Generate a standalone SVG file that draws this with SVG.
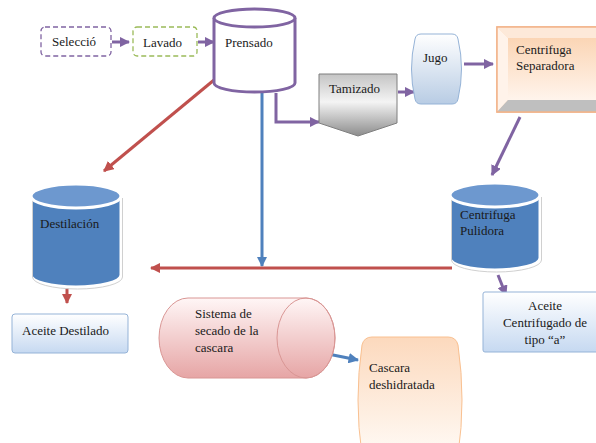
<svg xmlns="http://www.w3.org/2000/svg" width="596" height="443" viewBox="0 0 596 443" font-family="'Liberation Serif', 'Times New Roman', serif">
<style>
text{font-family:"Liberation Serif","Times New Roman",serif;font-size:13px;fill:#1a1a1a}
.p{stroke:#8064a2;stroke-width:3;fill:none}
.r{stroke:#c0504d;stroke-width:3;fill:none}
.b{stroke:#4f81bd;stroke-width:3;fill:none}
</style>
<defs>
<marker id="mp" viewBox="0 0 10 10" refX="9" refY="5" markerWidth="3.5" markerHeight="3.5" orient="auto"><path d="M0,0L10,5L0,10Z" fill="#8064a2"/></marker>
<marker id="mr" viewBox="0 0 10 10" refX="9" refY="5" markerWidth="3.5" markerHeight="3.5" orient="auto"><path d="M0,0L10,5L0,10Z" fill="#c0504d"/></marker>
<marker id="mb" viewBox="0 0 10 10" refX="9" refY="5" markerWidth="3.5" markerHeight="3.5" orient="auto"><path d="M0,0L10,5L0,10Z" fill="#4f81bd"/></marker>
<linearGradient id="gGray" x1="0" y1="0" x2="0" y2="1"><stop offset="0" stop-color="#c4c4c4"/><stop offset="0.45" stop-color="#f4f4f4"/><stop offset="1" stop-color="#8c8c8c"/></linearGradient>
<linearGradient id="gBlue" x1="0" y1="0" x2="0" y2="1"><stop offset="0" stop-color="#ffffff"/><stop offset="1" stop-color="#b8cce4"/></linearGradient>
<linearGradient id="gOr" x1="0" y1="0" x2="0" y2="1"><stop offset="0" stop-color="#fbd5b5"/><stop offset="1" stop-color="#fff4ec"/></linearGradient>
<linearGradient id="gOr2" x1="0" y1="0" x2="0" y2="1"><stop offset="0" stop-color="#fcd9bd"/><stop offset="1" stop-color="#fffaf5"/></linearGradient>
<linearGradient id="gPink" x1="0" y1="0" x2="0" y2="1"><stop offset="0" stop-color="#fff6f6"/><stop offset="1" stop-color="#e6a5a5"/></linearGradient>
<linearGradient id="gBox" x1="0" y1="0" x2="0" y2="1"><stop offset="0" stop-color="#ffffff"/><stop offset="1" stop-color="#c6d9f1"/></linearGradient>
</defs>

<g id="connectors">
<line class="p" x1="112" y1="42" x2="129" y2="42" marker-end="url(#mp)"/>
<line class="p" x1="198" y1="42" x2="214" y2="42" marker-end="url(#mp)"/>
<line class="r" x1="214" y1="80" x2="104" y2="171" marker-end="url(#mr)"/>
<line class="b" x1="262" y1="93" x2="262" y2="266" marker-end="url(#mb)"/>
<polyline class="p" points="276,93 276,122 319,122" marker-end="url(#mp)"/>
<line class="p" x1="398" y1="92" x2="414" y2="92" marker-end="url(#mp)"/>
<line class="p" x1="464" y1="64" x2="493" y2="64" marker-end="url(#mp)"/>
<line class="p" x1="520" y1="117" x2="492" y2="175" marker-end="url(#mp)"/>
<line class="r" x1="452" y1="268" x2="151" y2="268" marker-end="url(#mr)"/>
<line class="r" x1="67" y1="283" x2="67" y2="303" marker-end="url(#mr)"/>
<line class="p" x1="498" y1="275" x2="506" y2="295" marker-end="url(#mp)"/>
<line class="b" x1="328" y1="354" x2="358" y2="360" marker-end="url(#mb)"/>
</g>

<g id="seleccio">
<rect x="41" y="27" width="70" height="29" rx="4" fill="#fff" stroke="#8064a2" stroke-width="1.3" stroke-dasharray="5,3"/>
<text x="52" y="46">Selecció</text>
</g>

<g id="lavado">
<rect x="133" y="27" width="64" height="29" rx="4" fill="#fff" stroke="#9bbb59" stroke-width="1.3" stroke-dasharray="5,3"/>
<text x="143" y="47">Lavado</text>
</g>

<g id="prensado">
<path d="M214,18 L214,83 A40.5,9 0 0 0 295,83 L295,18" fill="#fff" stroke="#8064a2" stroke-width="3"/>
<ellipse cx="254.5" cy="18" rx="40.5" ry="9" fill="#fff" stroke="#8064a2" stroke-width="3"/>
<text x="225" y="47">Prensado</text>
</g>

<g id="tamizado">
<polygon points="319,74 397,74 397,123 358,136 319,123" fill="url(#gGray)" stroke="#7f7f7f" stroke-width="1"/>
<text x="329" y="93">Tamizado</text>
</g>

<g id="jugo">
<path d="M421,34 L452,34 Q457,34 458,39 Q465,69 458,99 Q457,104 452,104 L421,104 Q416,104 415,99 Q408,69 415,39 Q416,34 421,34 Z" fill="url(#gBlue)" stroke="#95b3d7" stroke-width="1"/>
<text x="423" y="62">Jugo</text>
</g>

<g id="centrifuga-separadora">
<rect x="497" y="27" width="102" height="85" fill="#fbd5b5" stroke="#f2b48a" stroke-width="1.5"/>
<polygon points="497,27 599,27 599,38 508,38" fill="#fde9d9"/>
<polygon points="497,27 508,38 508,100 497,112" fill="#fff3ea"/>
<polygon points="497,112 508,100 599,100 599,112" fill="#bfbfbf"/>
<rect x="508" y="38" width="91" height="62" fill="url(#gOr)"/>
<rect x="497" y="27" width="102" height="85" fill="none" stroke="#f2b48a" stroke-width="1.5"/>
<text x="516" y="54">Centrifuga</text>
<text x="516" y="70">Separadora</text>
</g>

<g id="destilacion">
<path d="M31,196 L31,275 A45,12 0 0 0 121,275 L121,196" fill="#4f81bd" stroke="#ffffff" stroke-width="3"/>
<path d="M31,196 L31,275 A45,12 0 0 0 121,275 L121,196" fill="none" stroke="#d0d0d0" stroke-width="1" transform="translate(1.5,2)"/>
<ellipse cx="76" cy="196" rx="45" ry="12" fill="#6d98cf" stroke="#ffffff" stroke-width="3"/>
<text x="40" y="228">Destilación</text>
</g>

<g id="centrifuga-pulidora">
<path d="M450,195 L450,258 A45,12 0 0 0 540,258 L540,195" fill="#4f81bd" stroke="#ffffff" stroke-width="3"/>
<path d="M450,195 L450,258 A45,12 0 0 0 540,258 L540,195" fill="none" stroke="#d0d0d0" stroke-width="1" transform="translate(1.5,2)"/>
<ellipse cx="495" cy="195" rx="45" ry="12" fill="#6d98cf" stroke="#ffffff" stroke-width="3"/>
<text x="460" y="219">Centrifuga</text>
<text x="460" y="235">Pulidora</text>
</g>

<g id="aceite-destilado">
<rect x="12" y="314" width="116" height="39" rx="3" fill="url(#gBox)" stroke="#95b3d7" stroke-width="1"/>
<text x="22" y="335">Aceite Destilado</text>
</g>

<g id="aceite-centrifugado">
<rect x="483" y="292" width="116" height="60" rx="2" fill="url(#gBox)" stroke="#95b3d7" stroke-width="1"/>
<text x="545" y="310" text-anchor="middle">Aceite</text>
<text x="545" y="327" text-anchor="middle">Centrifugado de</text>
<text x="545" y="344" text-anchor="middle">tipo “a”</text>
</g>

<g id="sistema-secado">
<path d="M188,298 L306,298 A29,40 0 0 1 306,378 L188,378 A29,40 0 0 1 188,298 Z" fill="url(#gPink)" stroke="#d99694" stroke-width="1"/>
<ellipse cx="306" cy="338" rx="29" ry="40" fill="none" stroke="#d99694" stroke-width="1"/>
<text x="195" y="318">Sistema de</text>
<text x="195" y="335">secado de la</text>
<text x="195" y="352">cascara</text>
</g>

<g id="cascara-deshidratada">
<path d="M372,337 L448,337 Q456,337 458,345 Q466,400 458,455 L362,455 Q354,400 362,345 Q364,337 372,337 Z" fill="url(#gOr2)" stroke="#f9c090" stroke-width="1"/>
<text x="369" y="372">Cascara</text>
<text x="369" y="389">deshidratada</text>
</g>
</svg>
